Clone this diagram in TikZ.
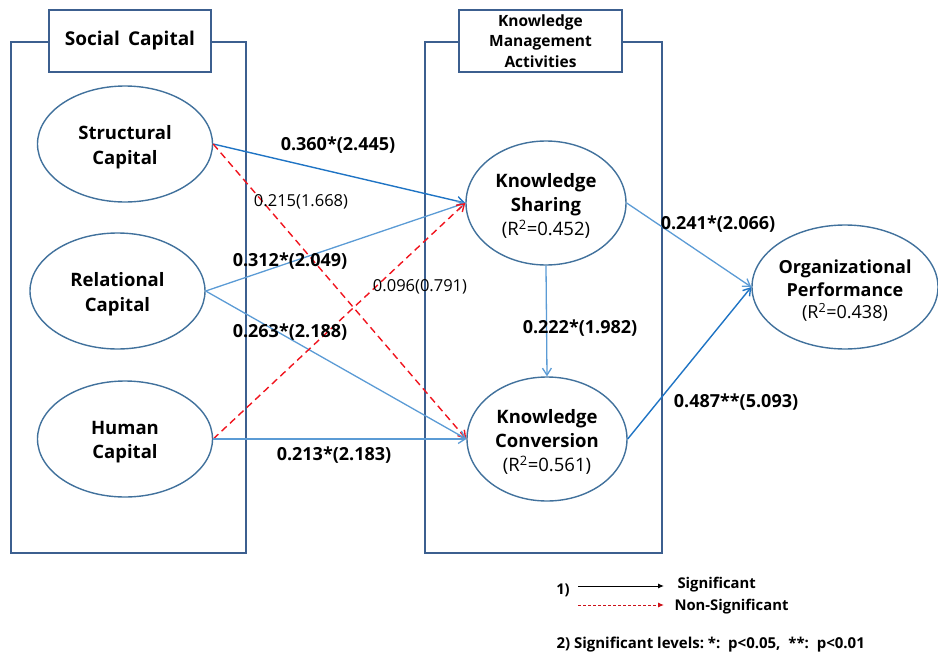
\documentclass[tikz,border=0pt]{standalone}
\usepackage{fontspec}
\setmainfont{Open Sans}
\usetikzlibrary{arrows.meta,shapes.geometric}
\definecolor{frame}{HTML}{3C5F8F}
\definecolor{ell}{HTML}{41719C}
\definecolor{dblue}{HTML}{1F74C4}
\definecolor{lblue}{HTML}{5B9BD5}
\definecolor{nsred}{HTML}{F0141E}
\tikzset{
  container/.style={draw=frame,line width=2.4pt},
  titlebox/.style={draw=frame,line width=2.4pt,fill=white},
  latent/.style={draw=ell,line width=1.4pt,ellipse,inner sep=0pt},
  ltext/.style={align=center,yshift=-3pt,font=\fontsize{18.5}{24.5}\selectfont\bfseries},
  sig/.style={draw=dblue,line width=1.4pt,-{Straight Barb[length=7pt,width=9pt]}},
  sigl/.style={draw=lblue,line width=1.3pt,-{Straight Barb[length=7pt,width=9pt]}},
  nsig/.style={draw=nsred,line width=1.4pt,dashed,dash pattern=on 7pt off 4.5pt,-{Straight Barb[length=7pt,width=9pt]}},
  blab/.style={font=\fontsize{18}{21}\selectfont\bfseries},
  nlab/.style={font=\fontsize{16.5}{20}\selectfont},
  leg/.style={font=\fontsize{14.8}{17}\selectfont\bfseries},
}
\begin{document}
\begin{tikzpicture}[x=1pt,y=-1pt]
\useasboundingbox (0,0) rectangle (938,656);
% containers
\draw[container] (11,42) rectangle (246,553);
\draw[container] (425,42) rectangle (662,553);
\node[titlebox,minimum width=162pt,minimum height=62pt,font=\fontsize{19}{22}\selectfont\bfseries] (tsc) at (130,41) {Social\ \,Capital};
\node[titlebox,minimum width=163pt,minimum height=62pt,align=center,font=\fontsize{15.5}{20.5}\selectfont\bfseries] (tkm) at (540.5,41) {Knowledge\\Management\\Activities};
% latent variables
\node[latent,minimum width=175pt,minimum height=116pt,label={[ltext]center:Structural\\Capital}] (sc) at (125,144) {};
\node[latent,minimum width=175pt,minimum height=116pt,label={[ltext]center:Relational\\Capital}] (rc) at (117.5,291) {};
\node[latent,minimum width=175pt,minimum height=116pt,label={[ltext]center:Human\\Capital}] (hc) at (125,439) {};
\node[latent,minimum width=160pt,minimum height=124pt,label={[ltext,font=\fontsize{18.5}{24}\selectfont\bfseries]center:Knowledge\\Sharing\\{\mdseries (R\textsuperscript{2}=0.452)}}] (ks) at (546,203) {};
\node[latent,minimum width=160pt,minimum height=124pt,label={[ltext,font=\fontsize{18.5}{24}\selectfont\bfseries]center:Knowledge\\Conversion\\{\mdseries (R\textsuperscript{2}=0.561)}}] (kc) at (547,439) {};
\node[latent,minimum width=186pt,minimum height=124pt,label={[ltext,yshift=-1pt,font=\fontsize{18}{22.5}\selectfont\bfseries]center:Organizational\\Performance\\{\mdseries (R\textsuperscript{2}=0.438)}}] (op) at (845,287) {};
% paths
\draw[sig] (sc.east) -- (ks.west);
\draw[nsig] (sc.east) -- (kc.west);
\draw[sigl] (rc.east) -- (ks.west);
\draw[sigl] (rc.east) -- (kc.west);
\draw[nsig] (hc.east) -- (ks.west);
\draw[sigl] (hc.east) -- (kc.west);
\draw[sigl] (ks.south) -- (kc.north);
\draw[sigl] (ks.east) -- (op.west);
\draw[sig] (kc.east) -- (op.west);
% labels
\node[blab] (l1) at (338,145) {0.360*(2.445)};
\node[nlab] (l2) at (301,202) {0.215(1.668)};
\node[blab] (l3) at (290,261) {0.312*(2.049)};
\node[nlab] (l4) at (420,287) {0.096(0.791)};
\node[blab] (l5) at (290,332) {0.263*(2.188)};
\node[blab] (l6) at (334,455) {0.213*(2.183)};
\node[blab] (l7) at (718,224) {0.241*(2.066)};
\node[blab] (l8) at (580,328) {0.222*(1.982)};
\node[blab] (l9) at (736,402) {0.487**(5.093)};
% legend
\node[leg] (n1) at (563,590) {1)};
\coordinate (a1) at (578,586);
\coordinate (b1) at (664,586);
\coordinate (a2) at (578,605);
\coordinate (b2) at (664,605);
\draw[line width=1pt,-{Latex[length=6pt,width=5pt]}] (a1) -- (b1);
\draw[nsred!85!black,line width=1pt,dashed,dash pattern=on 3pt off 2pt,-{Latex[length=6pt,width=5pt]}] (a2) -- (b2);
\node[leg,anchor=west] (s1) at (674,585) {Significant};
\node[leg,anchor=west] (s2) at (671,607) {Non-Significant};
\node[leg,anchor=west,font=\fontsize{15}{17}\selectfont\bfseries] (n2) at (553,645) {2)\ Significant levels:\ *:\ \ p<0.05,\ \ **:\ \ p<0.01};
\end{tikzpicture}
\end{document}
